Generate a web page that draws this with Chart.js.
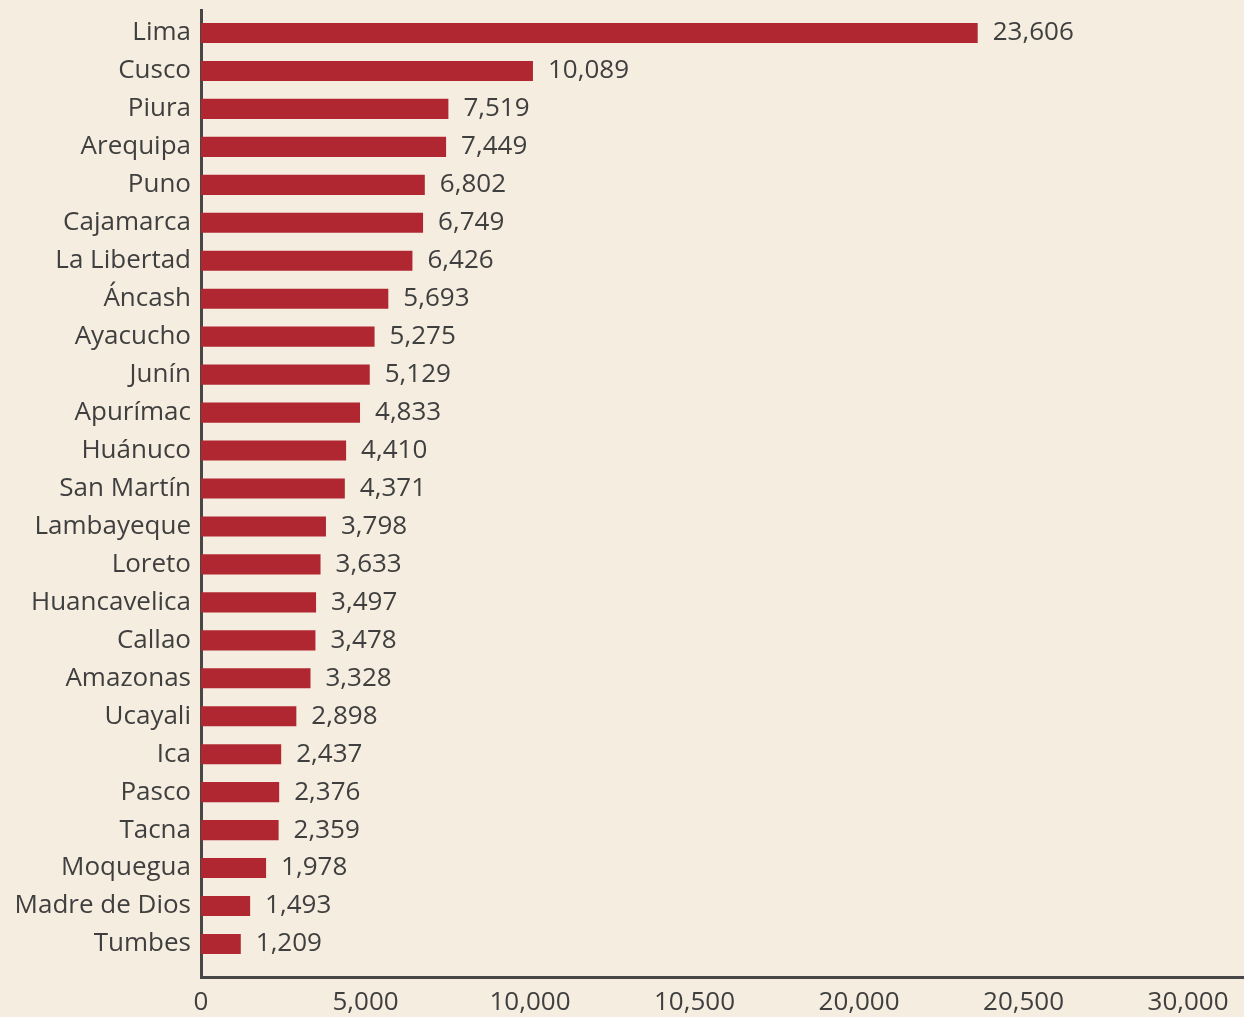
<!DOCTYPE html>
<html>
<head>
<meta charset="utf-8">
<script src="https://cdn.jsdelivr.net/npm/chart.js@4/dist/chart.umd.min.js"></script>
<style>
    html, body { margin: 0; padding: 0; background: #f5ede0; }
    #wrap { width: 1244px; height: 1017px; position: relative; }
</style>
</head>
<body>
<div id="wrap"><canvas id="regions-chart"></canvas></div>
<script>
// region names, top to bottom
var regions = ["Lima", "Cusco", "Piura", "Arequipa", "Puno", "Cajamarca", "La Libertad", "Áncash", "Ayacucho", "Junín",
    "Apurímac", "Huánuco", "San Martín", "Lambayeque", "Loreto", "Huancavelica", "Callao", "Amazonas", "Ucayali", "Ica",
    "Pasco", "Tacna", "Moquegua", "Madre de Dios", "Tumbes"];
var values = [23606, 10089, 7519, 7449, 6802, 6749, 6426, 5693, 5275, 5129,
    4833, 4410, 4371, 3798, 3633, 3497, 3478, 3328, 2898, 2437,
    2376, 2359, 1978, 1493, 1209];
// x axis ticks, labels as printed in the source
var tickValues = [0, 5000, 10000, 15000, 20000, 25000, 30000];
var tickLabels = ["0", "5,000", "10,000", "10,500", "20,000", "20,500", "30,000"];

var barColor = "#b02731";
var textColor = "#3f3f3f";
var axisColor = "#474747";
var fontFamily = "'Open Sans', 'Noto Sans', sans-serif";
var fontSize = 26;

// bar chart on a numeric index axis, so the axis can run past the first/last bar
var points = values.map(function (v, i) { return { x: v, y: i }; });

// <----------------------------------- value labels ----------------------------------->
var valueLabels = {
    id: 'valueLabels',
    afterDatasetsDraw: function (chart) {
        var ctx = chart.ctx;
        var meta = chart.getDatasetMeta(0);
        ctx.save();
        ctx.font = fontSize + "px " + fontFamily;
        ctx.fillStyle = textColor;
        ctx.textAlign = "left";
        ctx.textBaseline = "middle";
        meta.data.forEach(function (bar, i) {
            ctx.fillText(values[i].toLocaleString("en-US"), bar.x + 15, bar.y);
        });
        ctx.restore();
    }
};

var ctx = document.getElementById('regions-chart').getContext('2d');
var regionsChart = new Chart(ctx, {
    type: 'bar',
    data: {
        datasets: [{
            data: points,
            backgroundColor: barColor,
            borderWidth: 0,
            barPercentage: 0.53,
            categoryPercentage: 1
        }]
    },
    options: {
        indexAxis: 'y',
        responsive: true,
        maintainAspectRatio: false,
        animation: false,
        layout: { padding: { top: 10, right: 0, bottom: 0, left: 0 } },
        plugins: {
            legend: { display: false },
            tooltip: { enabled: false }
        },
        scales: {
            x: {
                type: 'linear',
                min: 0,
                max: 31700,
                grid: { display: false, drawTicks: false },
                border: { display: true, color: axisColor, width: 3 },
                afterBuildTicks: function (scale) {
                    scale.ticks = tickValues.map(function (v) { return { value: v }; });
                },
                afterFit: function (scale) {
                    scale.height = 40;
                    scale.paddingLeft = 0;
                    scale.paddingRight = 0;
                },
                ticks: {
                    padding: 10,
                    maxRotation: 0,
                    autoSkip: false,
                    color: textColor,
                    font: { family: fontFamily, size: fontSize },
                    callback: function (value) {
                        var idx = tickValues.indexOf(value);
                        return idx >= 0 ? tickLabels[idx] : '';
                    }
                }
            },
            y: {
                type: 'linear',
                reverse: true,
                offset: false,
                min: -0.606,
                max: 24.87,
                grid: { display: false, drawTicks: false, offset: false },
                border: { display: true, color: axisColor, width: 3 },
                afterBuildTicks: function (scale) {
                    scale.ticks = regions.map(function (r, i) { return { value: i }; });
                },
                afterFit: function (scale) {
                    scale.width = 201;
                    scale.paddingTop = 0;
                    scale.paddingBottom = 0;
                },
                ticks: {
                    padding: 10,
                    autoSkip: false,
                    color: textColor,
                    font: { family: fontFamily, size: fontSize },
                    callback: function (value) { return regions[value]; }
                }
            }
        }
    },
    plugins: [valueLabels]
});
</script>
</body>
</html>
